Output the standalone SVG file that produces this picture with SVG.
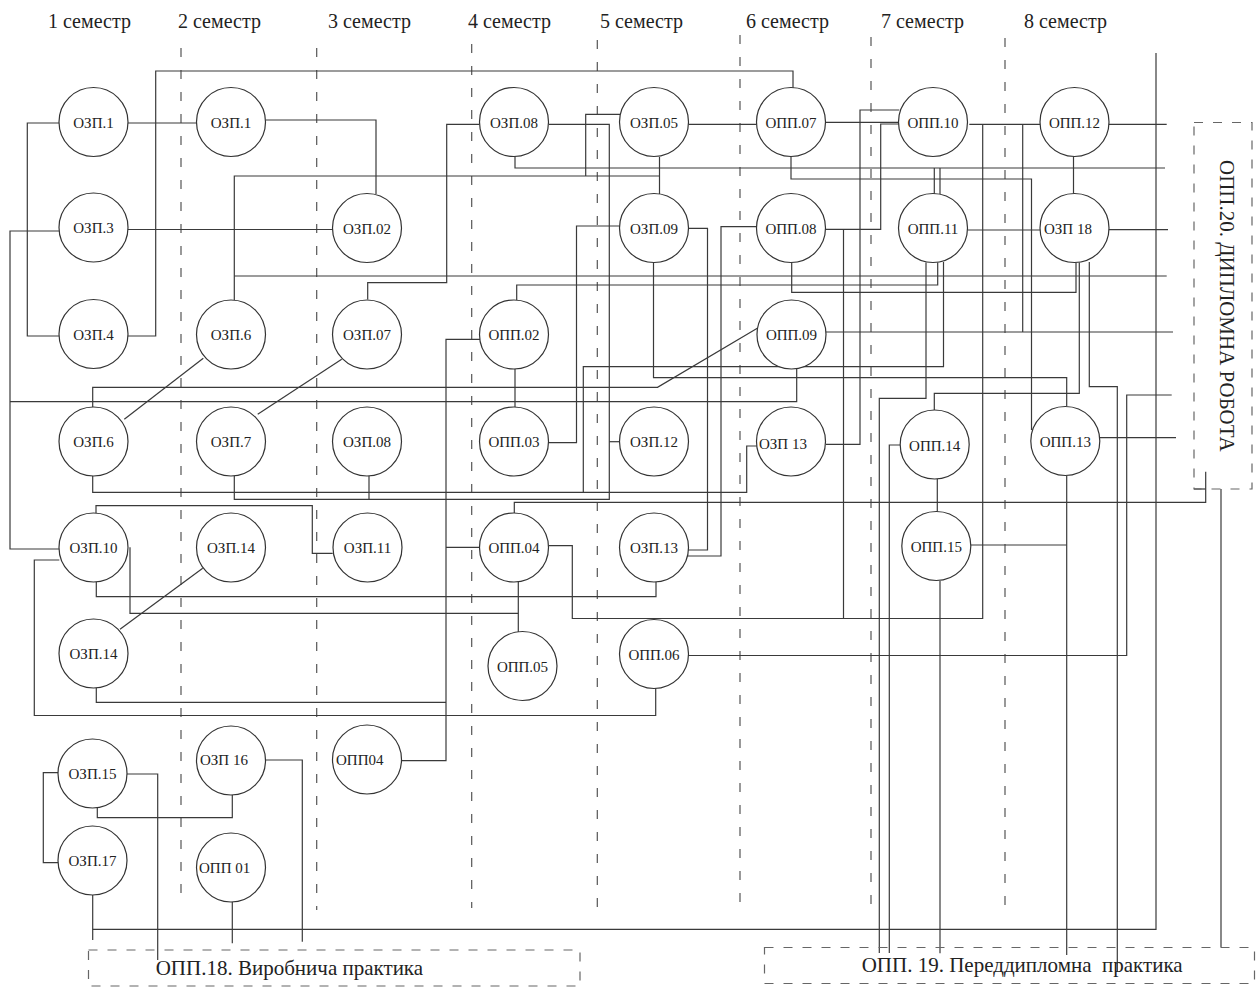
<svg xmlns="http://www.w3.org/2000/svg" width="1256" height="987" viewBox="0 0 1256 987">
<style>
.sem{font-family:"Liberation Serif","Times New Roman",serif;font-size:20px;fill:#222}
.lbl{font-family:"Liberation Serif","Times New Roman",serif;font-size:15px;fill:#222;text-anchor:middle}
.lbls{font-family:"Liberation Serif","Times New Roman",serif;font-size:15px;fill:#222}
.big{font-family:"Liberation Serif","Times New Roman",serif;font-size:21px;fill:#222}
.div{stroke:#555;stroke-width:1.2;stroke-dasharray:9 13;fill:none}
.box{stroke:#666;stroke-width:1.2;stroke-dasharray:9 10;fill:none}
.c{stroke:#3a3a3a;stroke-width:1.2;fill:none}
circle{fill:#fff;stroke:#333;stroke-width:1.2}
</style>
<rect width="1256" height="987" fill="#fff"/>
<g id="headers">
<text class="sem" x="48" y="28">1 семестр</text>
<text class="sem" x="178" y="28">2 семестр</text>
<text class="sem" x="328" y="28">3 семестр</text>
<text class="sem" x="468" y="28">4 семестр</text>
<text class="sem" x="600" y="28">5 семестр</text>
<text class="sem" x="746" y="28">6 семестр</text>
<text class="sem" x="881" y="28">7 семестр</text>
<text class="sem" x="1024" y="28">8 семестр</text>
</g>
<g id="dividers">
<line class="div" x1="181" y1="48" x2="181" y2="905"/>
<line class="div" x1="316.7" y1="48" x2="316.7" y2="910"/>
<line class="div" x1="471.7" y1="44" x2="471.7" y2="908"/>
<line class="div" x1="597.3" y1="40" x2="597.3" y2="912"/>
<line class="div" x1="740" y1="35" x2="740" y2="910"/>
<line class="div" x1="871" y1="37" x2="871" y2="910"/>
<line class="div" x1="1005" y1="38" x2="1005" y2="913"/>
</g>
<g id="connectors">
<path class="c" d="M128,336 H155.7 V71 H793 V88"/>
<path class="c" d="M59,123 H27.3 V336 H59"/>
<path class="c" d="M128,123 H197"/>
<path class="c" d="M266,120 H376 V194"/>
<path class="c" d="M128,229.5 H333"/>
<path class="c" d="M59,231 H10 V549 H59"/>
<path class="c" d="M10,401.7 H796.7 V369"/>
<path class="c" d="M234.3,300 V176 H659.5"/>
<path class="c" d="M234.3,276 H1166.7"/>
<path class="c" d="M659.5,157 V194"/>
<path class="c" d="M620,114.3 H585.7 V176"/>
<path class="c" d="M515,156 V168 H1165"/>
<path class="c" d="M934.3,168 V194"/>
<path class="c" d="M940,168 V195"/>
<path class="c" d="M791,156.5 V179 H1031.5 V430"/>
<path class="c" d="M479.5,124.3 H446.7 V282.7 H367.7 V299.5"/>
<path class="c" d="M549,124.3 H609.3 V499.3 H234.3 V476"/>
<path class="c" d="M369,476 V499.3"/>
<path class="c" d="M609.3,441.7 H619.5"/>
<path class="c" d="M688.5,124.3 H756.7"/>
<path class="c" d="M619.5,226 H576.5 V442.7 H549"/>
<path class="c" d="M688.5,228.3 H707.5 V550 H688"/>
<path class="c" d="M757,226.7 H721 V556 H687.5"/>
<path class="c" d="M653.5,262.5 V377.7 H1066.7 V406"/>
<path class="c" d="M92.7,407 V387.3 H657.5 L757.3,328.3"/>
<path class="c" d="M516.7,300 V285 H937.7 V262.5"/>
<path class="c" d="M791.7,262.5 V292.3 H1076 V262.5"/>
<path class="c" d="M826,122.3 H899"/>
<path class="c" d="M826,229.3 H880.7 V124 H899"/>
<path class="c" d="M843.5,229.3 V618.3"/>
<path class="c" d="M549,545.7 H572.3 V618.5 H982.7 V124.3"/>
<path class="c" d="M969.3,124.3 H1040"/>
<path class="c" d="M1109,124.3 H1166.7"/>
<path class="c" d="M1022.7,124.3 V332"/>
<path class="c" d="M826,332 H1173"/>
<path class="c" d="M826,444.3 H860 V110 H899.3"/>
<path class="c" d="M1073.5,156.5 V193.5"/>
<path class="c" d="M968,230 H1043"/>
<path class="c" d="M1109,229.7 H1168"/>
<path class="c" d="M926,262.5 V398.3 H879.3 V953"/>
<path class="c" d="M943.5,262 V366.7 H583.3 V492.3"/>
<path class="c" d="M92.7,476 V492.3 H746.7 V446 H757"/>
<path class="c" d="M1079.3,262.5 V393.3 H934.3 V410"/>
<path class="c" d="M1089.3,262 V386.7 H1117.3 V971.7"/>
<path class="c" d="M688.5,655.5 H1126.7 V395 H1171.7"/>
<path class="c" d="M1100,437.7 H1176"/>
<path class="c" d="M1066.7,476 V955"/>
<path class="c" d="M971,545 H1066.7"/>
<path class="c" d="M937.3,479 V511.7"/>
<path class="c" d="M940,581 V953.3"/>
<path class="c" d="M900,445 H889.3 V953"/>
<path class="c" d="M514.3,513 V502.3 H1205.7 V471.7"/>
<path class="c" d="M1194,489 H1205.7"/>
<path class="c" d="M1221,489 V947"/>
<path class="c" d="M480,339.3 H446 V760.7 H401.5"/>
<path class="c" d="M446,547.3 H480"/>
<path class="c" d="M515,369 V407"/>
<path class="c" d="M203.3,358.3 L124.3,419.3"/>
<path class="c" d="M341.7,359.3 L257.7,414.3"/>
<path class="c" d="M202.7,568.3 L120,629.3"/>
<path class="c" d="M96,513 V505.7 H312.3 V553.3 H332.7"/>
<path class="c" d="M130,547.3 V613.3 H518.3"/>
<path class="c" d="M518.3,582 V632"/>
<path class="c" d="M96.3,582 V596.7 H656 V582"/>
<path class="c" d="M59.3,560 H34.3 V715.5 H655.7 V688"/>
<path class="c" d="M96.3,688 V702.3 H446"/>
<path class="c" d="M58.3,772.7 H43.3 V862.7 H58.3"/>
<path class="c" d="M127,774 H157.7 V960"/>
<path class="c" d="M97.3,807.7 V817.7 H232.3 V795"/>
<path class="c" d="M266,760 H302.3 V941.7"/>
<path class="c" d="M92.7,895 V940"/>
<path class="c" d="M92.7,929.3 H1156 V53"/>
<path class="c" d="M232.3,902 V943.3"/>
</g>
<g id="n-c1-ozp1"><circle cx="93.5" cy="122" r="34.5"/><text class="lbl" x="93.5" y="127.5">ОЗП.1</text></g>
<g id="n-c1-ozp3"><circle cx="93.5" cy="227.5" r="34.5"/><text class="lbl" x="93.5" y="233">ОЗП.3</text></g>
<g id="n-c1-ozp4"><circle cx="93.5" cy="334" r="34.5"/><text class="lbl" x="93.5" y="339.5">ОЗП.4</text></g>
<g id="n-c1-ozp6"><circle cx="93.5" cy="441.5" r="34.5"/><text class="lbl" x="93.5" y="447">ОЗП.6</text></g>
<g id="n-c1-ozp10"><circle cx="93.5" cy="547.5" r="34.5"/><text class="lbl" x="93.5" y="553">ОЗП.10</text></g>
<g id="n-c1-ozp14"><circle cx="93.5" cy="653.5" r="34.5"/><text class="lbl" x="93.5" y="659">ОЗП.14</text></g>
<g id="n-c1-ozp15"><circle cx="92.5" cy="773.5" r="34.5"/><text class="lbl" x="92.5" y="779">ОЗП.15</text></g>
<g id="n-c1-ozp17"><circle cx="92.5" cy="860.5" r="34.5"/><text class="lbl" x="92.5" y="866">ОЗП.17</text></g>
<g id="n-c2-ozp1"><circle cx="231" cy="122" r="34.5"/><text class="lbl" x="231" y="127.5">ОЗП.1</text></g>
<g id="n-c2-ozp6"><circle cx="231" cy="334.5" r="34.5"/><text class="lbl" x="231" y="340">ОЗП.6</text></g>
<g id="n-c2-ozp7"><circle cx="231" cy="441.5" r="34.5"/><text class="lbl" x="231" y="447">ОЗП.7</text></g>
<g id="n-c2-ozp14"><circle cx="231" cy="547.5" r="34.5"/><text class="lbl" x="231" y="553">ОЗП.14</text></g>
<g id="n-c2-ozp16"><circle cx="231" cy="760.5" r="34.5"/><text class="lbls" x="200" y="765">ОЗП 16</text></g>
<g id="n-c2-opp01"><circle cx="231" cy="867.5" r="34.5"/><text class="lbls" x="199" y="873">ОПП 01</text></g>
<g id="n-c3-ozp02"><circle cx="367" cy="228" r="34.5"/><text class="lbl" x="367" y="233.5">ОЗП.02</text></g>
<g id="n-c3-ozp07"><circle cx="367" cy="334.5" r="34.5"/><text class="lbl" x="367" y="340">ОЗП.07</text></g>
<g id="n-c3-ozp08"><circle cx="367" cy="441.5" r="34.5"/><text class="lbl" x="367" y="447">ОЗП.08</text></g>
<g id="n-c3-ozp11"><circle cx="367.5" cy="547.5" r="34.5"/><text class="lbl" x="367.5" y="553">ОЗП.11</text></g>
<g id="n-c3-opp04"><circle cx="367" cy="759.5" r="34.5"/><text class="lbls" x="336" y="765">ОПП04</text></g>
<g id="n-c4-ozp08"><circle cx="514" cy="122" r="34.5"/><text class="lbl" x="514" y="127.5">ОЗП.08</text></g>
<g id="n-c4-opp02"><circle cx="514" cy="334.5" r="34.5"/><text class="lbl" x="514" y="340">ОПП.02</text></g>
<g id="n-c4-opp03"><circle cx="514" cy="441.5" r="34.5"/><text class="lbl" x="514" y="447">ОПП.03</text></g>
<g id="n-c4-opp04"><circle cx="514" cy="547.5" r="34.5"/><text class="lbl" x="514" y="553">ОПП.04</text></g>
<g id="n-c4-opp05"><circle cx="522.5" cy="666" r="34.5"/><text class="lbl" x="522.5" y="672">ОПП.05</text></g>
<g id="n-c5-ozp05"><circle cx="654" cy="122" r="34.5"/><text class="lbl" x="654" y="127.5">ОЗП.05</text></g>
<g id="n-c5-ozp09"><circle cx="654" cy="228" r="34.5"/><text class="lbl" x="654" y="233.5">ОЗП.09</text></g>
<g id="n-c5-ozp12"><circle cx="654" cy="441.5" r="34.5"/><text class="lbl" x="654" y="447">ОЗП.12</text></g>
<g id="n-c5-ozp13"><circle cx="654" cy="547.5" r="34.5"/><text class="lbl" x="654" y="553">ОЗП.13</text></g>
<g id="n-c5-opp06"><circle cx="654" cy="654" r="34.5"/><text class="lbl" x="654" y="659.5">ОПП.06</text></g>
<g id="n-c6-opp07"><circle cx="791" cy="122" r="34.5"/><text class="lbl" x="791" y="128">ОПП.07</text></g>
<g id="n-c6-opp08"><circle cx="791" cy="228" r="34.5"/><text class="lbl" x="791" y="234">ОПП.08</text></g>
<g id="n-c6-opp09"><circle cx="791.5" cy="334.5" r="34.5"/><text class="lbl" x="791.5" y="340">ОПП.09</text></g>
<g id="n-c6-ozp13"><circle cx="791" cy="441.5" r="34.5"/><text class="lbls" x="759" y="449">ОЗП 13</text></g>
<g id="n-c7-opp10"><circle cx="933" cy="122" r="34.5"/><text class="lbl" x="933" y="128">ОПП.10</text></g>
<g id="n-c7-opp11"><circle cx="933" cy="228" r="34.5"/><text class="lbl" x="933" y="234">ОПП.11</text></g>
<g id="n-c7-opp14"><circle cx="934.7" cy="444.5" r="34.5"/><text class="lbl" x="934.7" y="451">ОПП.14</text></g>
<g id="n-c7-opp15"><circle cx="936.3" cy="546" r="34.5"/><text class="lbl" x="936.3" y="552">ОПП.15</text></g>
<g id="n-c8-opp12"><circle cx="1074.5" cy="122" r="34.5"/><text class="lbl" x="1074.5" y="128">ОПП.12</text></g>
<g id="n-c8-ozp18"><circle cx="1074.5" cy="228" r="34.5"/><text class="lbls" x="1044" y="234">ОЗП 18</text></g>
<g id="n-c8-opp13"><circle cx="1065.3" cy="441" r="34.5"/><text class="lbl" x="1065.3" y="446.5">ОПП.13</text></g>
<g id="n-opp18">
<rect class="box" x="88.5" y="950" width="491.5" height="36"/>
<text class="big" x="155.7" y="975">ОПП.18. Виробнича практика</text>
</g>
<g id="n-opp19">
<rect class="box" x="764.5" y="947.5" width="490" height="36"/>
<text class="big" x="861.7" y="972" xml:space="preserve">ОПП. 19. Переддипломна  практика</text>
</g>
<g id="n-opp20">
<rect class="box" x="1194" y="122.5" width="58" height="366.5"/>
<text class="big" transform="translate(1220,160) rotate(90)" x="0" y="0">ОПП.20. ДИПЛОМНА РОБОТА</text>
</g>
</svg>
